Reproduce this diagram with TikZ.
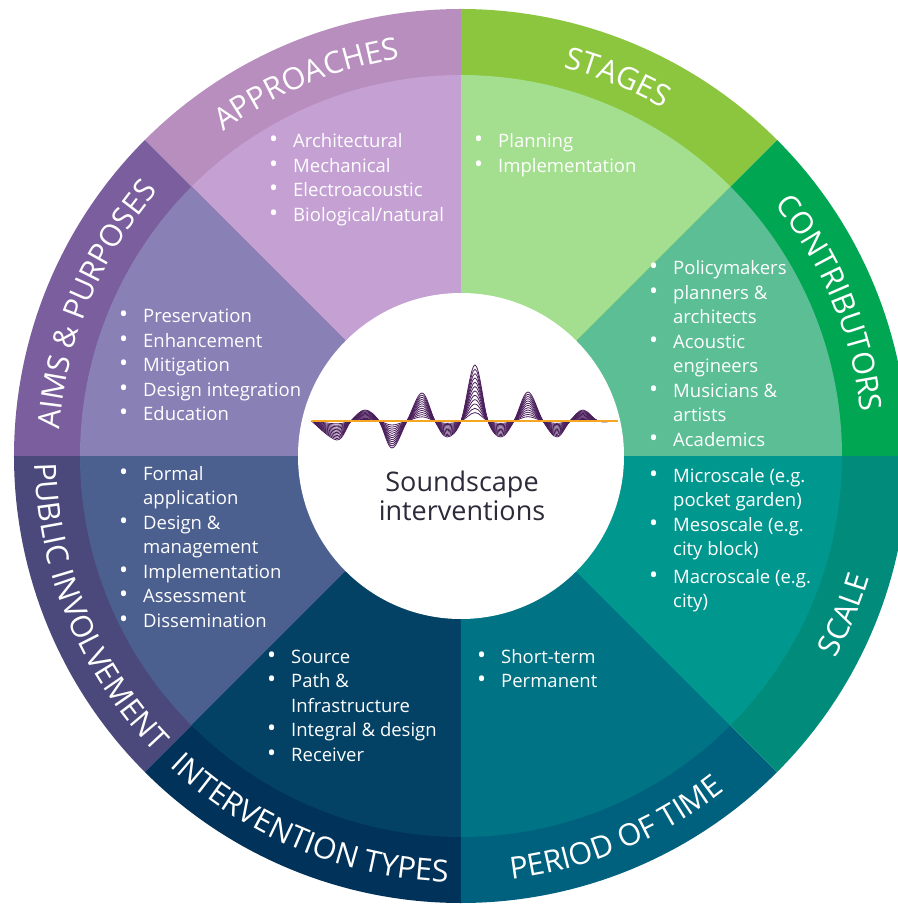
\documentclass[tikz,border=0pt]{standalone}
\usepackage{fontspec}
\setmainfont{Open Sans}
\usetikzlibrary{decorations.text}

% sector colours: outer ring / inner wedge
\definecolor{apRing}{HTML}{B88EBE}\definecolor{apIn}{HTML}{C4A0D3}
\definecolor{stRing}{HTML}{8CC63F}\definecolor{stIn}{HTML}{A3DF8E}
\definecolor{coRing}{HTML}{00A652}\definecolor{coIn}{HTML}{5CBE95}
\definecolor{scRing}{HTML}{008B7B}\definecolor{scIn}{HTML}{00978F}
\definecolor{peRing}{HTML}{00617F}\definecolor{peIn}{HTML}{007385}
\definecolor{inRing}{HTML}{01325A}\definecolor{inIn}{HTML}{034265}
\definecolor{puRing}{HTML}{4B497C}\definecolor{puIn}{HTML}{4C608F}
\definecolor{aiRing}{HTML}{7B5E9E}\definecolor{aiIn}{HTML}{8980B6}
\definecolor{waveCol}{HTML}{4B1F5C}
\definecolor{axisCol}{HTML}{F5A623}
\definecolor{hubText}{HTML}{2D2A3A}

\newcommand\ringfnt{\fontsize{30.5}{30.5}\selectfont}
\newcommand\listfnt{\fontsize{18.5}{24.5}\selectfont}
\newcommand\blt{\makebox[23pt][l]{\kern-1pt{\fontsize{24}{24}\selectfont\textbullet}}}
\newcommand\cnt{\hspace*{23pt}}

\tikzset{
  ringlabel/.style={decorate, decoration={text along path,
      text={|\ringfnt\color{white}|#1}, text align=center}},
  itemlist/.style={anchor=base west, inner sep=0pt, text=white},
  wave/.style={draw=waveCol, line width=0.8pt},
}

\newcommand\rlist[1]{\listfnt\begin{tabular}[t]{@{}l@{}}#1\end{tabular}}

\begin{document}
\begin{tikzpicture}[x=1pt,y=1pt]
\useasboundingbox (-461,-449) rectangle (436,456);
\fill[white] (-461,-449) rectangle (436,456);

% the eight sectors
\foreach \a/\rc/\ic in {0/coRing/coIn, 45/stRing/stIn, 90/apRing/apIn,
    135/aiRing/aiIn, 180/puRing/puIn, 225/inRing/inIn,
    270/peRing/peIn, 315/scRing/scIn}{
  \fill[\rc] (0,0) -- (\a:447) arc[start angle=\a, end angle=\a+45, radius=447] -- cycle;
  \fill[\ic] (0,0) -- (\a:381) arc[start angle=\a, end angle=\a+45, radius=381] -- cycle;
}

% hub
\node[circle, fill=white, minimum size=326pt, inner sep=0pt] (hub) at (0,0) {};

% ring labels (upper half read clockwise, lower half counter-clockwise)
\path[ringlabel=APPROACHES] (152.5:402) arc[start angle=152.5, end angle=72.5, radius=402];
\path[ringlabel=STAGES] (107.5:402) arc[start angle=107.5, end angle=27.5, radius=402];
\path[ringlabel=CONTRIBUTORS] (62.5:402) arc[start angle=62.5, end angle=-17.5, radius=402];
\path[ringlabel=AIMS {\&} PURPOSES] (197.5:402) arc[start angle=197.5, end angle=117.5, radius=402];
\path[ringlabel=SCALE] (297.5:426) arc[start angle=297.5, end angle=377.5, radius=426];
\path[ringlabel=PERIOD OF TIME] (252.5:426) arc[start angle=252.5, end angle=332.5, radius=426];
\path[ringlabel=INTERVENTION TYPES] (207.5:426) arc[start angle=207.5, end angle=287.5, radius=426];
\path[ringlabel=PUBLIC INVOLVEMENT] (162.5:426) arc[start angle=162.5, end angle=242.5, radius=426];

% item lists
\node[itemlist] (approaches) at (-191,308) {\rlist{\blt Architectural\\ \blt Mechanical\\ \blt Electroacoustic\\ \blt Biological/natural}};
\node[itemlist] (stages) at (14,308) {\rlist{\blt Planning\\ \blt Implementation}};
\node[itemlist] (contributors) at (189,181) {\rlist{\blt Policymakers\\ \blt planners \&\\ \cnt architects\\ \blt Acoustic\\ \cnt engineers\\ \blt Musicians \&\\ \cnt artists\\ \blt Academics}};
\node[itemlist] (scale) at (189,-26) {\rlist{\blt Microscale (e.g.\\ \cnt pocket garden)\\ \blt Mesoscale (e.g.\\ \cnt city block)\\[3pt] \blt Macroscale (e.g.\\ \cnt city)}};
\node[itemlist] (period) at (17,-207) {\rlist{\blt Short-term\\ \blt Permanent}};
\node[itemlist] (types) at (-193,-207) {\rlist{\blt Source\\ \blt Path \&\\ \cnt Infrastructure\\ \blt Integral \& design\\ \blt Receiver}};
\node[itemlist] (public) at (-341,-24) {\rlist{\blt Formal\\ \cnt application\\ \blt Design \&\\ \cnt management\\ \blt Implementation\\ \blt Assessment\\ \blt Dissemination}};
\node[itemlist] (aims) at (-341,133) {\rlist{\blt Preservation\\ \blt Enhancement\\ \blt Mitigation\\ \blt Design integration\\ \blt Education}};

% sound wave bundle
\foreach \k in {0,...,11}{
  \pgfmathsetmacro\s{0.15+0.0773*\k}
  \draw[wave] plot[smooth, tension=0.6] coordinates {
    (-149,35) (-124,{35-19*\s}) (-110,35) (-96,{35+11*\s}) (-82,35)
    (-69,{35-27*\s}) (-54,35) (-39,{35+28*\s}) (-26,35) (-14,{35-16*\s})
    (0,35) (14,{35+56*\s}) (27,35) (40,{35-16*\s}) (53,35)
    (67,{35+29*\s}) (82,35) (96,{35-16*\s}) (109,35) (122,{35+11*\s})
    (137,35) (152,35)};
}
\draw[axisCol, line width=1.5pt] (-149,35) -- (157,35);

\node[text=hubText, align=center, font=\fontsize{27}{29}\selectfont] (title) at (1,-40) {Soundscape\\interventions};
\end{tikzpicture}
\end{document}
